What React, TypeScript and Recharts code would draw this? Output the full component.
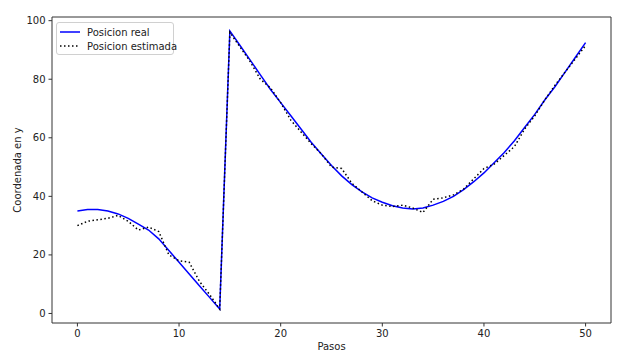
import { Line, LineChart, ReferenceLine, XAxis, YAxis } from 'recharts'

// pasos 0..50
const pasos = [
  0, 1, 2, 3, 4, 5, 6, 7, 8, 9, 10, 11, 12, 13, 14, 15, 16, 17, 18, 19, 20, 21, 22, 23, 24, 25,
  26, 27, 28, 29, 30, 31, 32, 33, 34, 35, 36, 37, 38, 39, 40, 41, 42, 43, 44, 45, 46, 47, 48, 49, 50,
]

const posicionReal = [
  35, 35.5, 35.5, 35, 34, 32.5, 30.5, 28.5, 25.5, 21.5, 17.5, 13.5, 9.5, 5.5, 1.5, 96.5, 91.5, 86.5,
  81.5, 76.5, 72, 67.5, 63, 58.5, 54.5, 50.5, 47, 44, 41.5, 39.5, 38, 36.8, 36, 35.7, 36, 37, 38.3,
  40, 42.3, 45, 48, 51.5, 55, 59, 63.5, 68, 73, 77.5, 82.5, 87.5, 92.5,
]

const posicionEstimada = [
  30, 31.5, 32, 32.5, 33.5, 31.5, 28.5, 29.5, 28, 20, 18, 17.5, 11, 6.5, 1.5, 96, 91, 86, 80, 77,
  72, 66, 62, 58, 54.5, 50, 49.5, 44.5, 41.5, 38.5, 37, 36.5, 37, 36, 34.5, 39, 39.5, 40.5, 42.5, 46,
  49.5, 51, 54, 57, 63, 67.5, 73, 78, 82.5, 87, 91.5,
]

const xTicks = [0, 10, 20, 30, 40, 50]
const yTicks = [0, 20, 40, 60, 80, 100]

const X_DOMAIN: [number, number] = [-2.5, 52.5]
const Y_DOMAIN: [number, number] = [-3.25, 101.25]

const FONT = 'DejaVu Sans, sans-serif'
const TEXT = '#222'
const SPINE = '#333'

const chartData = pasos.map((p, i) => ({
  paso: p,
  real: posicionReal[i],
  estimada: posicionEstimada[i],
}))

function LegendBox() {
  const row = (dash: string | undefined, color: string, label: string) => (
    <div style={{ display: 'flex', alignItems: 'center', height: 14, whiteSpace: 'nowrap' }}>
      <svg width={20} height={4} style={{ marginRight: 7, flex: 'none' }}>
        <line x1={0} y1={2} x2={20} y2={2} stroke={color} strokeWidth={1.5} strokeDasharray={dash} />
      </svg>
      <span>{label}</span>
    </div>
  )
  return (
    <div
      style={{
        position: 'absolute',
        left: 56,
        top: 22,
        width: 118,
        height: 33,
        border: '1px solid #d0d0d0',
        borderRadius: 3,
        background: 'rgba(255,255,255,0.8)',
        padding: '2px 0 0 3px',
        fontFamily: FONT,
        fontSize: 10,
        color: TEXT,
        boxSizing: 'border-box',
      }}
    >
      {row(undefined, '#0000ff', 'Posicion real')}
      {row('1.5 2.5', '#000', 'Posicion estimada')}
    </div>
  )
}

export default function App() {
  return (
    <div style={{ position: 'absolute', left: 0, top: 0, width: 622, height: 361, background: '#fff' }}>
      <LineChart
        width={622}
        height={361}
        data={chartData}
        margin={{ top: 17, right: 11, bottom: 8, left: 12 }}
      >
        <XAxis
          dataKey="paso"
          type="number"
          domain={X_DOMAIN}
          ticks={xTicks}
          allowDataOverflow
          height={30}
          tickSize={3.5}
          tickMargin={3}
          stroke={SPINE}
          tick={{ fontSize: 10, fill: TEXT, fontFamily: FONT }}
          label={{ value: 'Pasos', position: 'insideBottom', offset: 3, fontSize: 10, fill: TEXT, fontFamily: FONT }}
        />
        <YAxis
          type="number"
          domain={Y_DOMAIN}
          ticks={yTicks}
          allowDataOverflow
          width={40}
          tickSize={3.5}
          tickMargin={3}
          stroke={SPINE}
          tick={{ fontSize: 10, fill: TEXT, fontFamily: FONT }}
          label={() => (
            <text
              x={17}
              y={170}
              transform="rotate(-90 17 170)"
              textAnchor="middle"
              dominantBaseline="central"
              fontSize={10}
              fill={TEXT}
              fontFamily={FONT}
            >
              Coordenada en y
            </text>
          )}
        />
        {/* top and right spines */}
        <ReferenceLine y={Y_DOMAIN[1]} stroke={SPINE} ifOverflow="extendDomain" />
        <ReferenceLine x={X_DOMAIN[1]} stroke={SPINE} ifOverflow="extendDomain" />
        <Line
          type="linear"
          dataKey="real"
          name="Posicion real"
          stroke="#0000ff"
          strokeWidth={1.5}
          dot={false}
          isAnimationActive={false}
        />
        <Line
          type="linear"
          dataKey="estimada"
          name="Posicion estimada"
          stroke="#000"
          strokeWidth={1.5}
          strokeDasharray="1.5 2.5"
          dot={false}
          isAnimationActive={false}
        />
      </LineChart>
      <LegendBox />
    </div>
  )
}
